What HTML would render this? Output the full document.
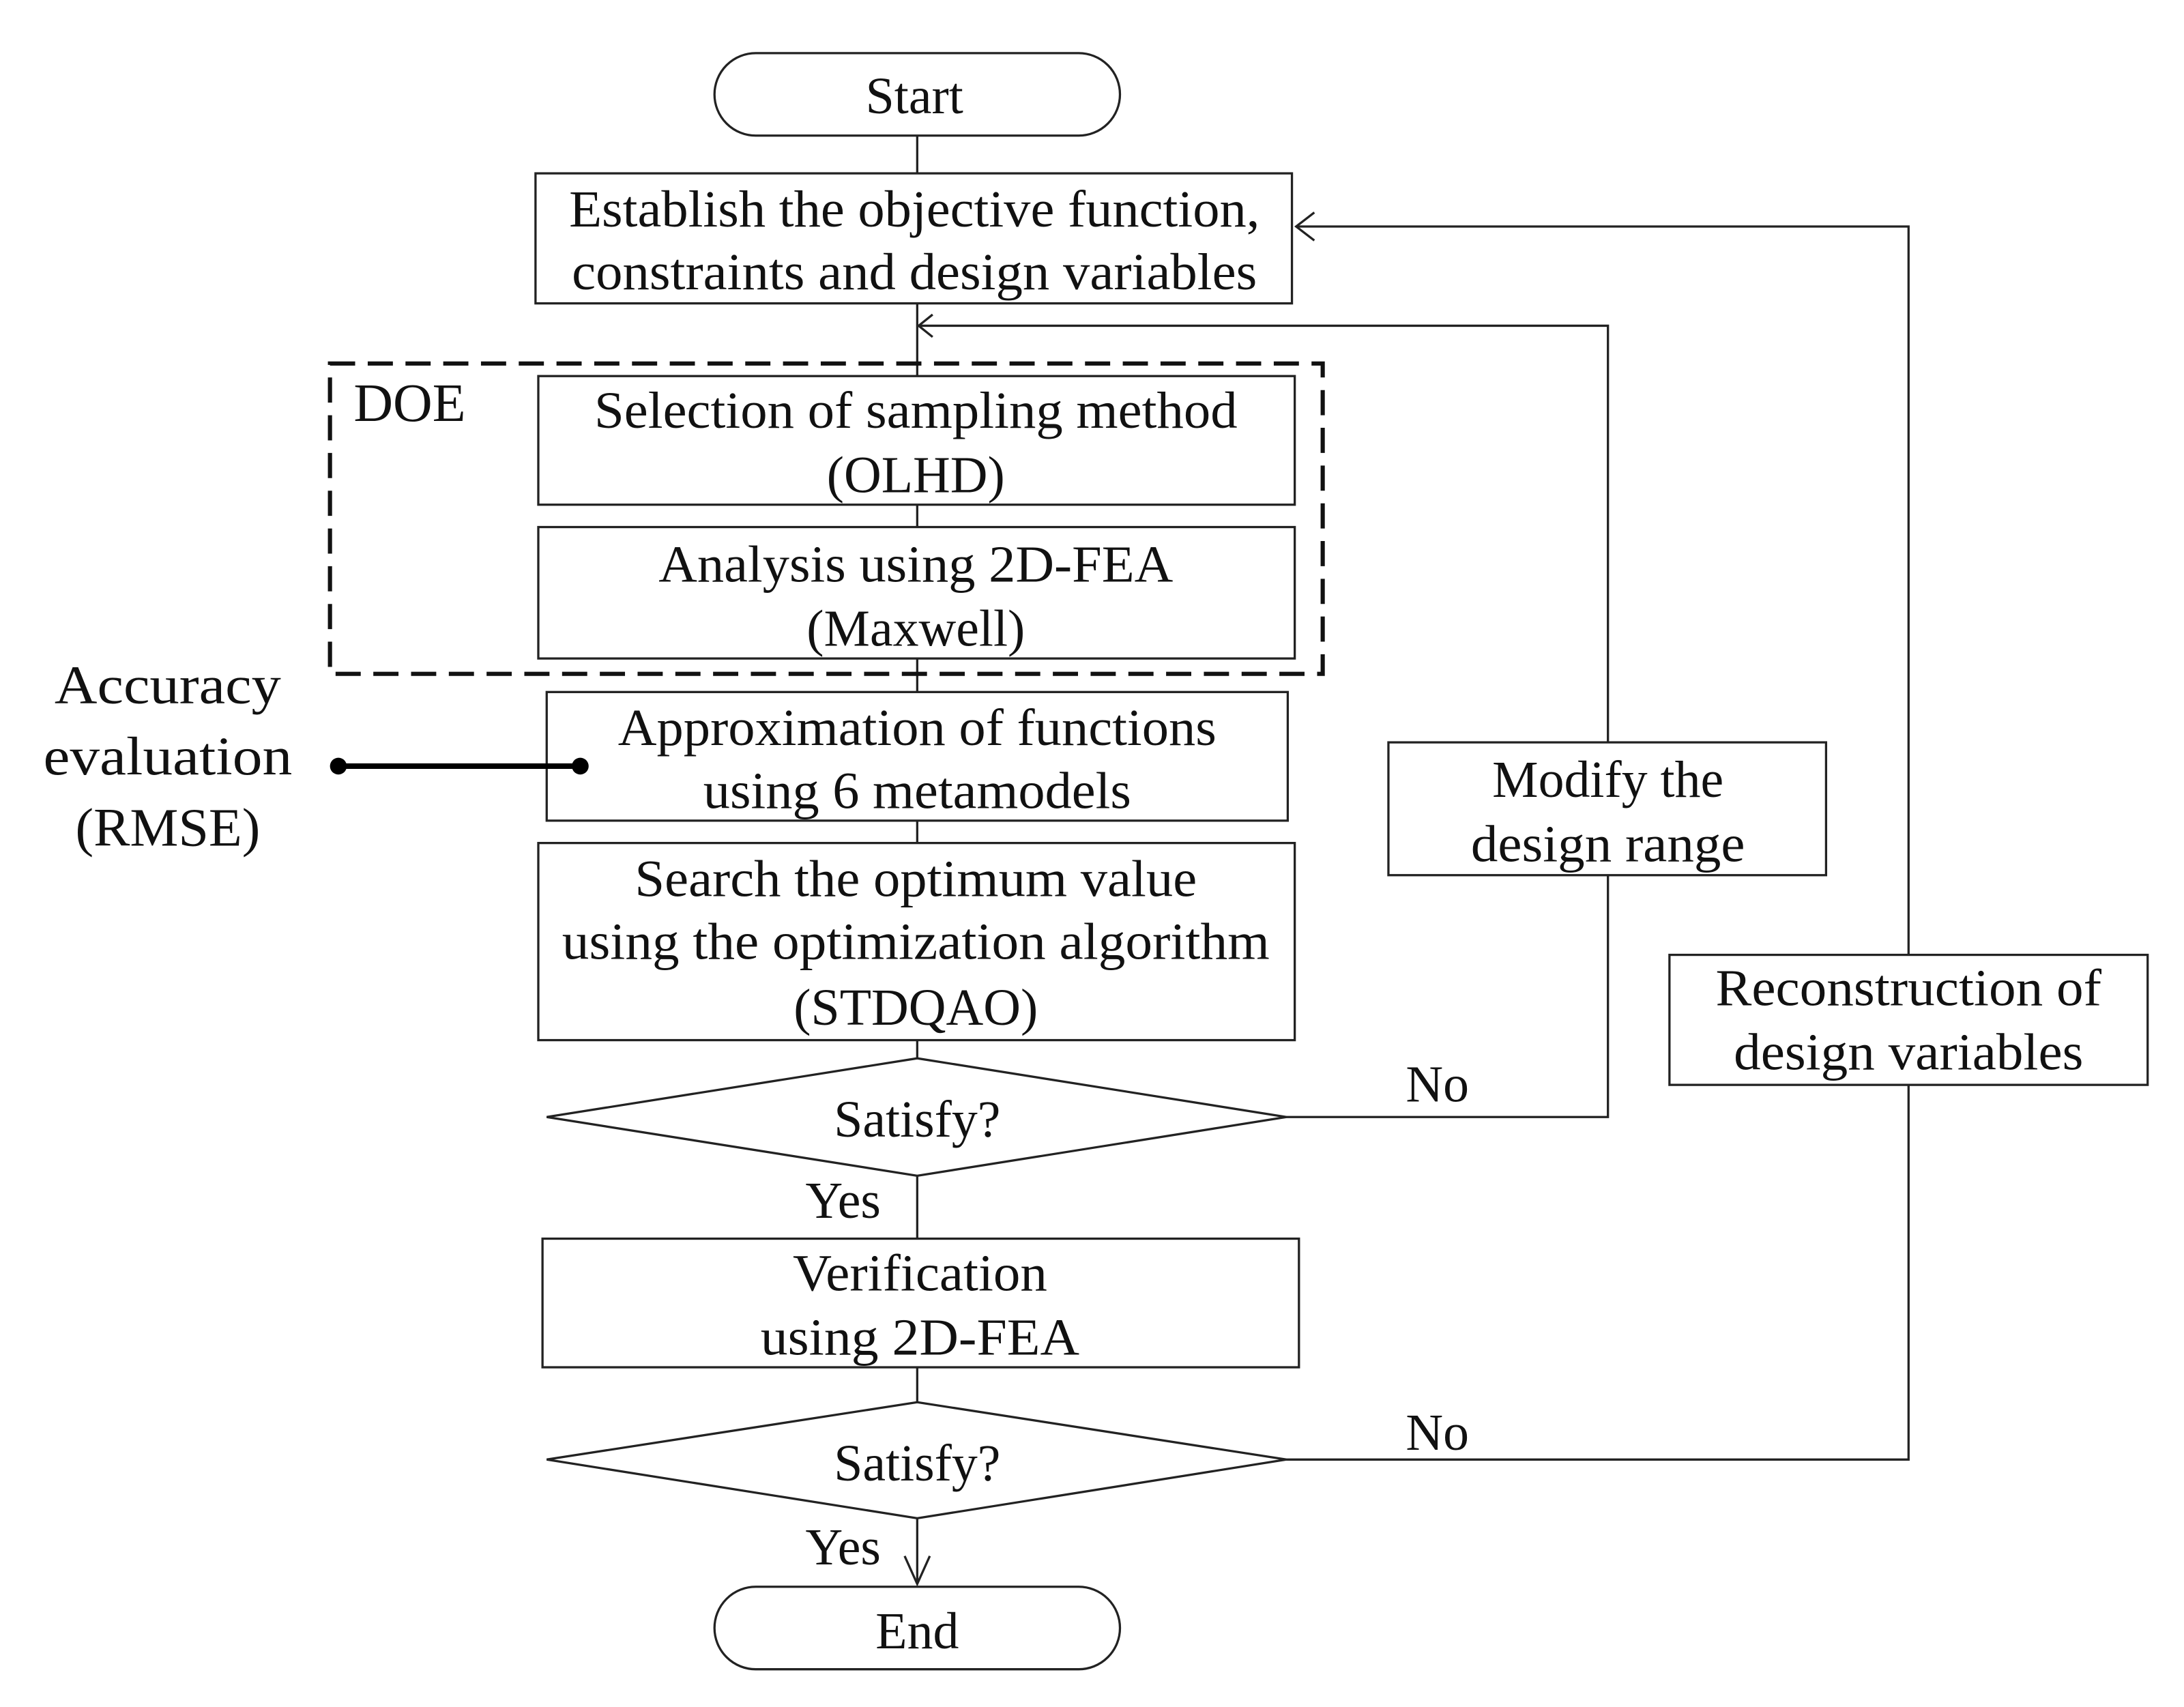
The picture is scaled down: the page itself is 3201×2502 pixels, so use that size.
<!DOCTYPE html>
<html><head><meta charset="utf-8"><style>html,body{margin:0;padding:0;background:#fff}svg{display:block}</style></head><body>
<svg width="3201" height="2502" viewBox="0 0 1562 1221" preserveAspectRatio="none" xmlns="http://www.w3.org/2000/svg">
<g fill="none" stroke="#222" stroke-width="1.6">
<rect x="511" y="38" width="290" height="59" rx="29.5"/>
<rect x="511" y="1135" width="290" height="59" rx="29.5"/>
<rect x="383" y="124" width="541" height="93"/>
<rect x="385" y="269" width="541" height="92"/>
<rect x="385" y="377" width="541" height="94"/>
<rect x="391" y="495" width="530" height="92"/>
<rect x="385" y="603" width="541" height="141"/>
<rect x="388" y="886" width="541" height="92"/>
<rect x="993" y="531" width="313" height="95"/>
<rect x="1194" y="683" width="342" height="93"/>
<polygon points="391,799 656,757 920,799 656,841"/>
<polygon points="391,1044 656,1003 920,1044 656,1086"/>
<line x1="656" y1="97" x2="656" y2="124"/>
<line x1="656" y1="217" x2="656" y2="269"/>
<line x1="656" y1="361" x2="656" y2="377"/>
<line x1="656" y1="471" x2="656" y2="495"/>
<line x1="656" y1="587" x2="656" y2="603"/>
<line x1="656" y1="744" x2="656" y2="757"/>
<line x1="656" y1="841" x2="656" y2="886"/>
<line x1="656" y1="978" x2="656" y2="1003"/>
<line x1="656" y1="1086" x2="656" y2="1133"/>
<polyline points="647,1113 656,1133 665,1113"/>
<polyline points="920,799 1150,799 1150,626"/>
<polyline points="1150,531 1150,233 657,233"/>
<polyline points="667,225 657,233 667,241"/>
<polyline points="920,1044 1365,1044 1365,776"/>
<polyline points="1365,683 1365,162 927,162"/>
<polyline points="940,152 927,162 940,172"/>
<rect x="236" y="260" width="710" height="222" stroke="#111" stroke-width="3" stroke-dasharray="18,9"/>
<line x1="242" y1="548" x2="415" y2="548" stroke="#000" stroke-width="4"/>
</g>
<circle cx="242" cy="548" r="6" fill="#000"/><circle cx="415" cy="548" r="6" fill="#000"/>
<g font-family="'Liberation Serif',serif" font-size="37" fill="#111" text-anchor="middle">
<text x="654" y="81">Start</text>
<text x="654" y="162" textLength="494" lengthAdjust="spacingAndGlyphs">Establish the objective function,</text>
<text x="654" y="207" textLength="490" lengthAdjust="spacingAndGlyphs">constraints and design variables</text>
<text x="655" y="306" textLength="460" lengthAdjust="spacingAndGlyphs">Selection of sampling method</text>
<text x="655" y="352">(OLHD)</text>
<text x="655" y="416" textLength="368" lengthAdjust="spacingAndGlyphs">Analysis using 2D-FEA</text>
<text x="655" y="462">(Maxwell)</text>
<text x="656" y="533" textLength="428" lengthAdjust="spacingAndGlyphs">Approximation of functions</text>
<text x="656" y="578" textLength="306" lengthAdjust="spacingAndGlyphs">using 6 metamodels</text>
<text x="655" y="641" textLength="402" lengthAdjust="spacingAndGlyphs">Search the optimum value</text>
<text x="655" y="686" textLength="506" lengthAdjust="spacingAndGlyphs">using the optimization algorithm</text>
<text x="655" y="733">(STDQAO)</text>
<text x="656" y="813">Satisfy?</text>
<text x="658" y="923" textLength="182" lengthAdjust="spacingAndGlyphs">Verification</text>
<text x="658" y="969" textLength="228" lengthAdjust="spacingAndGlyphs">using 2D-FEA</text>
<text x="656" y="1059">Satisfy?</text>
<text x="656" y="1179">End</text>
<text x="1150" y="570">Modify the</text>
<text x="1150" y="616" textLength="196" lengthAdjust="spacingAndGlyphs">design range</text>
<text x="1365" y="719" textLength="276" lengthAdjust="spacingAndGlyphs">Reconstruction of</text>
<text x="1365" y="765" textLength="250" lengthAdjust="spacingAndGlyphs">design variables</text>
<text x="603" y="871">Yes</text>
<text x="603" y="1119">Yes</text>
<text x="1028" y="788">No</text>
<text x="1028" y="1037">No</text>
<text x="120" y="503" font-size="39" textLength="162" lengthAdjust="spacingAndGlyphs">Accuracy</text>
<text x="120" y="554" font-size="39" textLength="178" lengthAdjust="spacingAndGlyphs">evaluation</text>
<text x="120" y="605" font-size="39">(RMSE)</text>
<text x="293" y="301" font-size="39">DOE</text>
</g>
</svg>
</body></html>
